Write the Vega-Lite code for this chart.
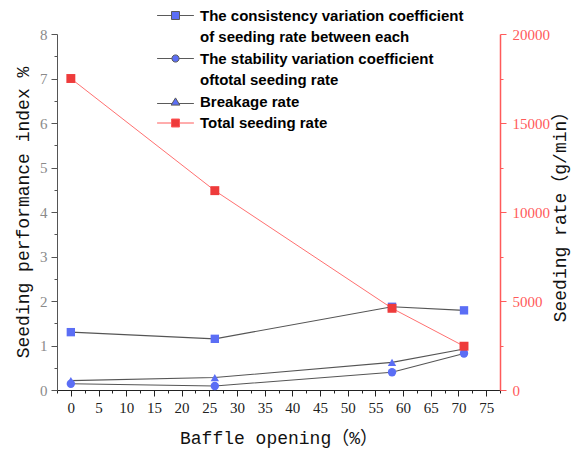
{
  "$schema": "https://vega.github.io/schema/vega-lite/v6.json",
  "width": 443,
  "height": 356,
  "autosize": {"type": "none"},
  "padding": {"left": 57, "top": 34, "right": 73, "bottom": 61},
  "background": "white",
  "config": {"view": {"stroke": null}},
  "data": {
    "values": [
      {"opening": 0, "series": "Consistency", "value": 1.30},
      {"opening": 26, "series": "Consistency", "value": 1.15},
      {"opening": 58, "series": "Consistency", "value": 1.87},
      {"opening": 71, "series": "Consistency", "value": 1.79},
      {"opening": 0, "series": "Stability", "value": 0.14},
      {"opening": 26, "series": "Stability", "value": 0.09},
      {"opening": 58, "series": "Stability", "value": 0.40},
      {"opening": 71, "series": "Stability", "value": 0.82},
      {"opening": 0, "series": "Breakage", "value": 0.21},
      {"opening": 26, "series": "Breakage", "value": 0.28},
      {"opening": 58, "series": "Breakage", "value": 0.62},
      {"opening": 71, "series": "Breakage", "value": 0.92},
      {"opening": 0, "series": "Total", "value": 17500},
      {"opening": 26, "series": "Total", "value": 11200},
      {"opening": 58, "series": "Total", "value": 4590},
      {"opening": 71, "series": "Total", "value": 2460}
    ]
  },
  "encoding": {
    "x": {
      "field": "opening",
      "type": "quantitative",
      "scale": {"domain": [-2.5, 77.5], "nice": false, "zero": false},
      "axis": {
        "title": "Baffle opening（%）",
        "titleFont": "Liberation Mono, Noto Sans CJK SC",
        "titleFontSize": 18,
        "titleFontWeight": "normal",
        "titleColor": "#111",
        "titlePadding": 14,
        "values": [-2.5, 0, 2.5, 5, 7.5, 10, 12.5, 15, 17.5, 20, 22.5, 25, 27.5, 30, 32.5, 35, 37.5, 40, 42.5, 45, 47.5, 50, 52.5, 55, 57.5, 60, 62.5, 65, 67.5, 70, 72.5, 75, 77.5],
        "labelExpr": "datum.value >= 0 && datum.value <= 75 && datum.value % 5 === 0 ? datum.label : ''",
        "labelFont": "Liberation Serif",
        "labelFontSize": 15,
        "labelColor": "#222",
        "labelPadding": 4,
        "labelFlush": false,
        "labelOverlap": false,
        "tickSize": {"expr": "datum.value % 5 === 0 ? 6 : 3"},
        "tickColor": "#222",
        "domainColor": "#222",
        "grid": false
      }
    }
  },
  "layer": [
    {
      "transform": [{"filter": "datum.series !== 'Total'"}],
      "encoding": {
        "y": {
          "field": "value",
          "type": "quantitative",
          "scale": {"domain": [0, 8], "nice": false},
          "axis": {
            "title": "Seeding performance index %",
            "titleFont": "Liberation Mono",
            "titleFontSize": 18,
            "titleFontWeight": "normal",
            "titleColor": "#111",
            "titlePadding": 7,
            "values": [0, 0.5, 1, 1.5, 2, 2.5, 3, 3.5, 4, 4.5, 5, 5.5, 6, 6.5, 7, 7.5, 8],
            "labelExpr": "datum.value % 1 === 0 ? format(datum.value, 'd') : ''",
            "labelFont": "Liberation Serif",
            "labelFontSize": 15,
            "labelColor": "#8a8a8a",
            "labelPadding": 4,
            "labelFlush": false,
            "tickSize": {"expr": "datum.value % 1 === 0 ? 6 : 3"},
            "tickColor": "#555",
            "domainColor": "#555",
            "grid": false
          }
        }
      },
      "layer": [
        {
          "mark": {"type": "line", "color": "#555555", "strokeWidth": 1.1},
          "encoding": {"detail": {"field": "series"}}
        },
        {
          "mark": {"type": "point", "filled": true, "opacity": 1, "size": 70},
          "encoding": {
            "color": {
              "field": "series",
              "type": "nominal",
              "scale": {
                "domain": ["Consistency", "Consistency_2", "Stability", "Stability_2", "Breakage", "Total"],
                "range": ["#5b6ef5", "#ffffff", "#5b6ef5", "#ffffff", "#5b6ef5", "#ee3b3b"]
              },
              "legend": {
                "title": null,
                "orient": "none",
                "legendX": 111,
                "legendY": -26,
                "padding": 0,
                "rowPadding": 5.5,
                "symbolSize": 64,
                "symbolType": {"expr": "datum.value === 'Stability' ? 'M-4.6,0H-0.9M0.9,0H4.6M-0.9,0A0.9,0.9 0 1,0 0.9,0A0.9,0.9 0 1,0 -0.9,0Z' : datum.value === 'Breakage' ? 'M-4.6,0.5H-0.85M0.85,0.5H4.6M0,-0.9L1.1,0.9H-1.1Z' : (datum.value === 'Consistency' || datum.value === 'Total') ? 'M-4.6,0H-1M1,0H4.6M-1,-1H1V1H-1Z' : 'M0,0'"},
                "symbolStrokeColor": {"expr": "datum.value === 'Total' ? '#ff5a5a' : '#5a5a5a'"},
                "symbolStrokeWidth": 1,
                "labelOffset": 17,
                "labelFont": "Liberation Sans",
                "labelFontSize": 15,
                "labelFontWeight": "bold",
                "labelColor": "#000",
                "labelLimit": 500,
                "labelExpr": "datum.value === 'Consistency' ? 'The consistency variation coefficient' : datum.value === 'Consistency_2' ? 'of seeding rate between each' : datum.value === 'Stability' ? 'The stability variation coefficient' : datum.value === 'Stability_2' ? 'oftotal seeding rate' : datum.value === 'Breakage' ? 'Breakage rate' : 'Total seeding rate'"
              }
            },
            "shape": {
              "field": "series",
              "type": "nominal",
              "scale": {"domain": ["Consistency", "Stability", "Breakage", "Total"], "range": ["square", "circle", "triangle-up", "square"]},
              "legend": null
            }
          }
        }
      ]
    },
    {
      "transform": [{"filter": "datum.series === 'Total'"}],
      "encoding": {
        "y": {
          "field": "value",
          "type": "quantitative",
          "scale": {"domain": [0, 20000], "nice": false},
          "axis": {
            "orient": "right",
            "title": "Seeding rate（g/min）",
            "titleFont": "Liberation Mono, Noto Sans CJK SC",
            "titleFontSize": 18,
            "titleFontWeight": "normal",
            "titleColor": "#111",
            "titleAngle": 270,
            "titlePadding": 20,
            "values": [0, 2500, 5000, 7500, 10000, 12500, 15000, 17500, 20000],
            "labelExpr": "datum.value % 5000 === 0 ? format(datum.value, 'd') : ''",
            "labelFont": "Liberation Serif",
            "labelFontSize": 15,
            "labelColor": "#ff5a5a",
            "labelPadding": 6,
            "labelFlush": false,
            "tickSize": {"expr": "datum.value % 5000 === 0 ? 6 : 3"},
            "tickColor": "#ff5a5a",
            "domainColor": "#ff5a5a",
            "domainWidth": 1.5,
            "grid": false
          }
        }
      },
      "layer": [
        {
          "mark": {"type": "line", "color": "#ff7070", "strokeWidth": 1},
          "encoding": {}
        },
        {
          "mark": {"type": "point", "filled": true, "opacity": 1, "size": 80, "shape": "square", "color": "#ee3b3b"},
          "encoding": {}
        }
      ]
    }
  ],
  "resolve": {"scale": {"y": "independent"}}
}
